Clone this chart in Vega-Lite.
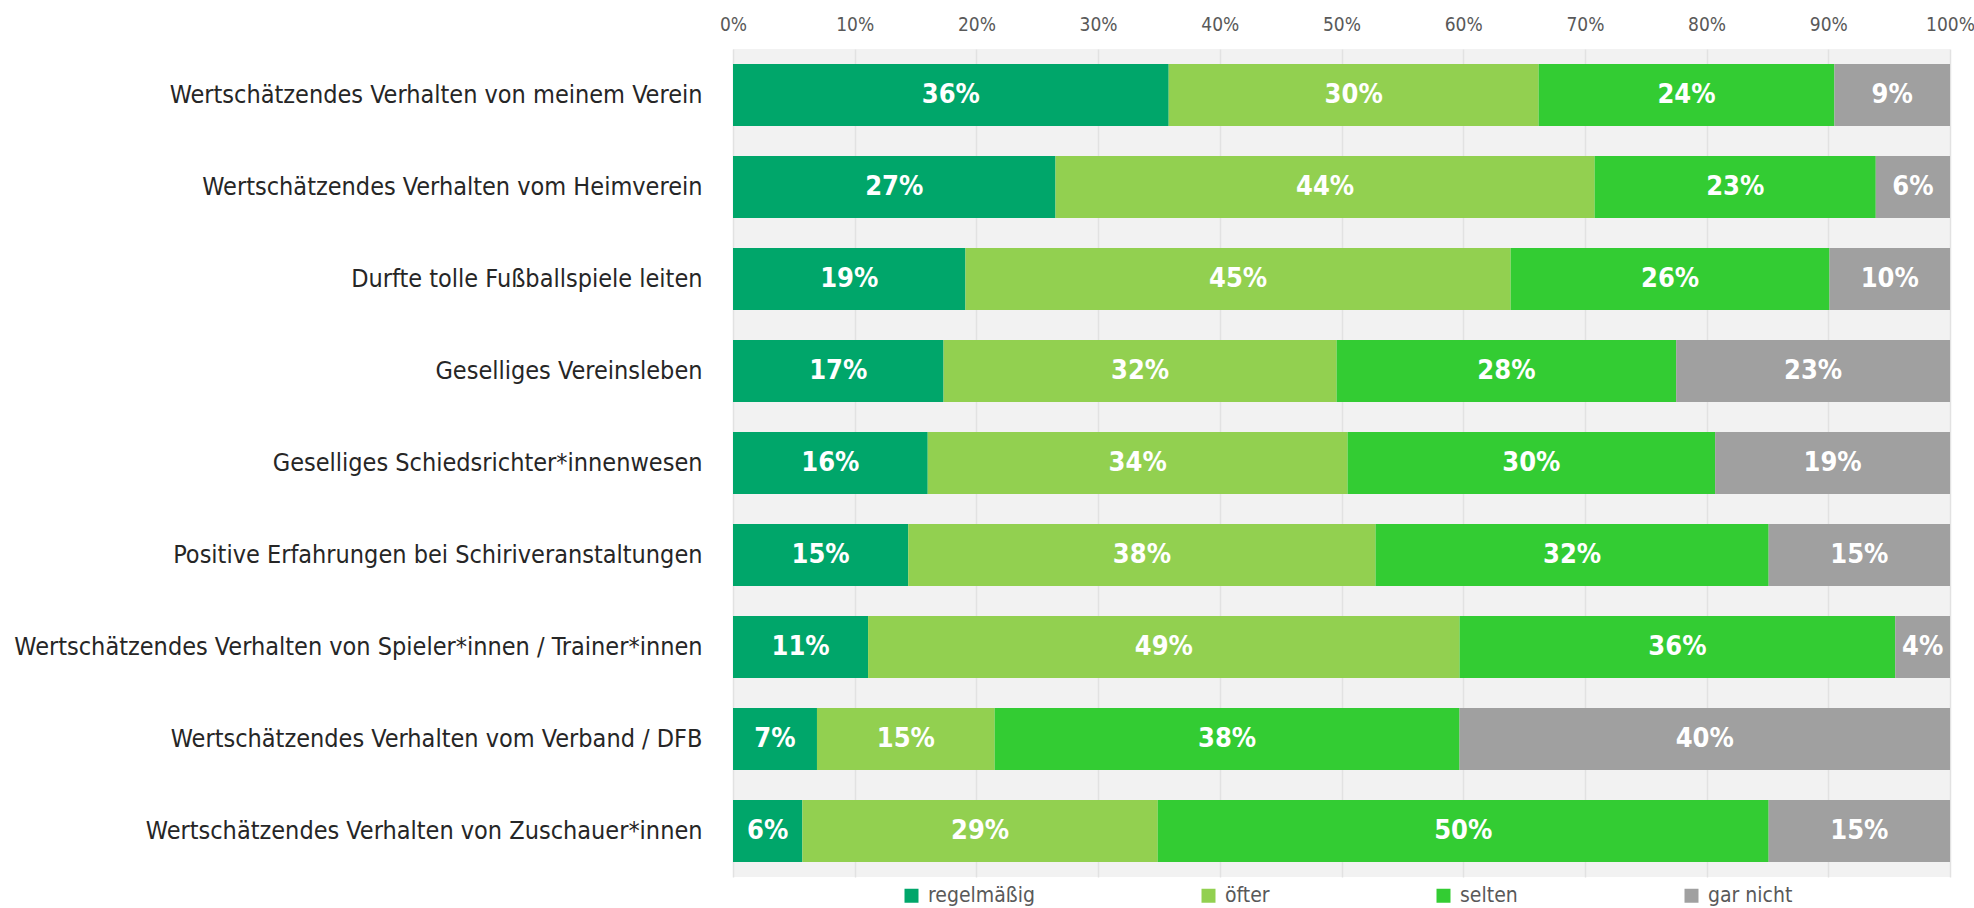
{
  "$schema": "https://vega.github.io/schema/vega-lite/v6.json",
  "autosize": {"type": "none"},
  "padding": {"left": 733, "top": 49, "right": 24, "bottom": 31},
  "width": 1217,
  "height": 828,
  "background": "white",
  "config": {"font": "DejaVu Sans Condensed, DejaVu Sans, sans-serif", "view": {"fill": "#f2f2f2", "stroke": null}},
  "data": {"values": [
    {"item": "Wertschätzendes Verhalten von meinem Verein", "cat": "regelmäßig", "o": 1, "value": 35.8, "label": "36%"},
    {"item": "Wertschätzendes Verhalten von meinem Verein", "cat": "öfter", "o": 2, "value": 30.4, "label": "30%"},
    {"item": "Wertschätzendes Verhalten von meinem Verein", "cat": "selten", "o": 3, "value": 24.3, "label": "24%"},
    {"item": "Wertschätzendes Verhalten von meinem Verein", "cat": "gar nicht", "o": 4, "value": 9.5, "label": "9%"},
    {"item": "Wertschätzendes Verhalten vom Heimverein", "cat": "regelmäßig", "o": 1, "value": 26.5, "label": "27%"},
    {"item": "Wertschätzendes Verhalten vom Heimverein", "cat": "öfter", "o": 2, "value": 44.3, "label": "44%"},
    {"item": "Wertschätzendes Verhalten vom Heimverein", "cat": "selten", "o": 3, "value": 23.1, "label": "23%"},
    {"item": "Wertschätzendes Verhalten vom Heimverein", "cat": "gar nicht", "o": 4, "value": 6.1, "label": "6%"},
    {"item": "Durfte tolle Fußballspiele leiten", "cat": "regelmäßig", "o": 1, "value": 19.1, "label": "19%"},
    {"item": "Durfte tolle Fußballspiele leiten", "cat": "öfter", "o": 2, "value": 44.8, "label": "45%"},
    {"item": "Durfte tolle Fußballspiele leiten", "cat": "selten", "o": 3, "value": 26.2, "label": "26%"},
    {"item": "Durfte tolle Fußballspiele leiten", "cat": "gar nicht", "o": 4, "value": 9.9, "label": "10%"},
    {"item": "Geselliges Vereinsleben", "cat": "regelmäßig", "o": 1, "value": 17.3, "label": "17%"},
    {"item": "Geselliges Vereinsleben", "cat": "öfter", "o": 2, "value": 32.3, "label": "32%"},
    {"item": "Geselliges Vereinsleben", "cat": "selten", "o": 3, "value": 27.9, "label": "28%"},
    {"item": "Geselliges Vereinsleben", "cat": "gar nicht", "o": 4, "value": 22.5, "label": "23%"},
    {"item": "Geselliges Schiedsrichter*innenwesen", "cat": "regelmäßig", "o": 1, "value": 16.0, "label": "16%"},
    {"item": "Geselliges Schiedsrichter*innenwesen", "cat": "öfter", "o": 2, "value": 34.5, "label": "34%"},
    {"item": "Geselliges Schiedsrichter*innenwesen", "cat": "selten", "o": 3, "value": 30.2, "label": "30%"},
    {"item": "Geselliges Schiedsrichter*innenwesen", "cat": "gar nicht", "o": 4, "value": 19.3, "label": "19%"},
    {"item": "Positive Erfahrungen bei Schiriveranstaltungen", "cat": "regelmäßig", "o": 1, "value": 14.4, "label": "15%"},
    {"item": "Positive Erfahrungen bei Schiriveranstaltungen", "cat": "öfter", "o": 2, "value": 38.4, "label": "38%"},
    {"item": "Positive Erfahrungen bei Schiriveranstaltungen", "cat": "selten", "o": 3, "value": 32.3, "label": "32%"},
    {"item": "Positive Erfahrungen bei Schiriveranstaltungen", "cat": "gar nicht", "o": 4, "value": 14.9, "label": "15%"},
    {"item": "Wertschätzendes Verhalten von Spieler*innen / Trainer*innen", "cat": "regelmäßig", "o": 1, "value": 11.1, "label": "11%"},
    {"item": "Wertschätzendes Verhalten von Spieler*innen / Trainer*innen", "cat": "öfter", "o": 2, "value": 48.6, "label": "49%"},
    {"item": "Wertschätzendes Verhalten von Spieler*innen / Trainer*innen", "cat": "selten", "o": 3, "value": 35.8, "label": "36%"},
    {"item": "Wertschätzendes Verhalten von Spieler*innen / Trainer*innen", "cat": "gar nicht", "o": 4, "value": 4.5, "label": "4%"},
    {"item": "Wertschätzendes Verhalten vom Verband / DFB", "cat": "regelmäßig", "o": 1, "value": 6.9, "label": "7%"},
    {"item": "Wertschätzendes Verhalten vom Verband / DFB", "cat": "öfter", "o": 2, "value": 14.6, "label": "15%"},
    {"item": "Wertschätzendes Verhalten vom Verband / DFB", "cat": "selten", "o": 3, "value": 38.2, "label": "38%"},
    {"item": "Wertschätzendes Verhalten vom Verband / DFB", "cat": "gar nicht", "o": 4, "value": 40.3, "label": "40%"},
    {"item": "Wertschätzendes Verhalten von Zuschauer*innen", "cat": "regelmäßig", "o": 1, "value": 5.7, "label": "6%"},
    {"item": "Wertschätzendes Verhalten von Zuschauer*innen", "cat": "öfter", "o": 2, "value": 29.2, "label": "29%"},
    {"item": "Wertschätzendes Verhalten von Zuschauer*innen", "cat": "selten", "o": 3, "value": 50.2, "label": "50%"},
    {"item": "Wertschätzendes Verhalten von Zuschauer*innen", "cat": "gar nicht", "o": 4, "value": 14.9, "label": "15%"}
  ]},
  "transform": [
    {"stack": "value", "groupby": ["item"], "sort": [{"field": "o", "order": "ascending"}], "as": ["v0", "v1"]},
    {"calculate": "(datum.v0 + datum.v1) / 2", "as": "mid"}
  ],
  "encoding": {
    "y": {
      "field": "item", "type": "nominal", "sort": null,
      "scale": {"paddingInner": 0.326, "paddingOuter": 0.163},
      "axis": {"title": null, "ticks": false, "domain": false, "labelFontSize": 25, "labelColor": "#262626", "labelPadding": 31, "labelLimit": 800}
    }
  },
  "layer": [
    {
      "mark": {"type": "bar"},
      "encoding": {
        "x": {
          "field": "v0", "type": "quantitative",
          "scale": {"domain": [0, 100], "nice": false},
          "axis": {"orient": "top", "title": null, "values": [0,10,20,30,40,50,60,70,80,90,100], "labelExpr": "datum.value + '%'", "ticks": false, "domain": false, "labelFontSize": 19, "labelColor": "#595959", "labelPadding": 15, "grid": true, "gridColor": "#e2e2e2", "gridWidth": 1.5, "labelFlush": false}
        },
        "x2": {"field": "v1"},
        "color": {
          "field": "cat", "type": "nominal",
          "scale": {"domain": ["regelmäßig", "öfter", "selten", "gar nicht"], "range": ["#00A66A", "#92D050", "#33CC33", "#A0A0A0"]},
          "legend": {"title": null, "orient": "none", "legendX": 168, "legendY": 836, "direction": "horizontal", "columns": 4, "gridAlign": "each", "columnPadding": 163, "symbolType": "square", "symbolSize": 196, "symbolStrokeWidth": 0, "symbolOpacity": 1, "labelFontSize": 21, "labelColor": "#595959", "labelOffset": 6}
        }
      }
    },
    {
      "mark": {"type": "text", "color": "white", "fontSize": 27, "fontWeight": "bold", "align": "center", "baseline": "middle"},
      "encoding": {
        "x": {"field": "mid", "type": "quantitative"},
        "text": {"field": "label"}
      }
    }
  ]
}
